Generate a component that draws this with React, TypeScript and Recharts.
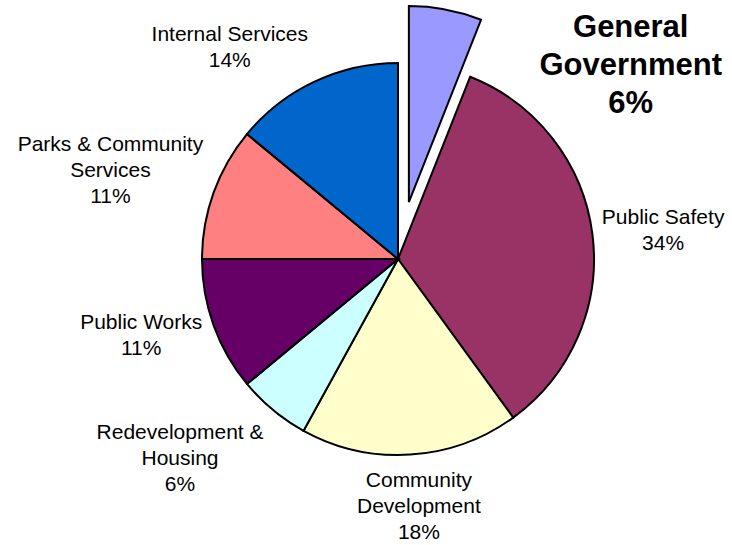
import React from "react";
import { PieChart, Pie, Cell } from "recharts";

const categories = [
  "General Government",
  "Public Safety",
  "Community Development",
  "Redevelopment & Housing",
  "Public Works",
  "Parks & Community Services",
  "Internal Services",
];
const shares = [6, 34, 18, 6, 11, 11, 14];
// how each label breaks onto lines ("|" = new line), percent added after
const labelText = [
  "General|Government",
  "Public Safety",
  "Community|Development",
  "Redevelopment &|Housing",
  "Public Works",
  "Parks & Community|Services",
  "Internal Services",
];
const colors = ["#9999FF", "#993366", "#FFFFCC", "#CCFFFF", "#660066", "#FF8080", "#0066CC"];

// label placement around the pie: angle (deg) and distance from the centre
const labelAngle = [38.4, 4.7, -85.3, -136.6, -162, 164.1, 129.4];
const labelDist = [297, 266, 255, 300, 270, 299, 265];

const CX = 398;
const CY = 259;
const R = 196;
const explodeIndex = 0;
const explodeDist = 58;
const RAD = Math.PI / 180;

const data = categories.map((name, i) => ({ name, value: shares[i] }));

const total = shares.reduce((a, b) => a + b, 0);
const before = shares.slice(0, explodeIndex).reduce((a, b) => a + b, 0);
const explodeMid = 90 - (360 * (before + shares[explodeIndex] / 2)) / total;
const dx = explodeDist * Math.cos(explodeMid * RAD);
const dy = -explodeDist * Math.sin(explodeMid * RAD);

const renderLabel = (props: any) => {
  const index: number = props.index;
  const cx: number = typeof props.cx === "number" ? props.cx : CX;
  const cy: number = typeof props.cy === "number" ? props.cy : CY;
  const a = labelAngle[index] * RAD;
  const x = cx + labelDist[index] * Math.cos(a);
  const y = cy - labelDist[index] * Math.sin(a);
  const lines = [...labelText[index].split("|"), `${shares[index]}%`];
  const bold = index === explodeIndex;
  const fs = bold ? 31 : 21;
  const lh = bold ? 38 : 26;
  return (
    <text
      x={x}
      y={y}
      textAnchor="middle"
      fontFamily="'Liberation Sans', Arial, sans-serif"
      fontSize={fs}
      fontWeight={bold ? 700 : 400}
      fill="#000"
    >
      {lines.map((l, k) => (
        <tspan key={k} x={x} y={y + (k - (lines.length - 1) / 2) * lh}>
          {l}
        </tspan>
      ))}
    </text>
  );
};

export default function App() {
  return (
    <div style={{ position: "absolute", left: 0, top: 0, background: "#fff" }}>
      <PieChart width={732} height={545} margin={{ top: 0, right: 0, bottom: 0, left: 0 }}>
        <Pie
          data={data}
          dataKey="value"
          nameKey="name"
          cx={CX}
          cy={CY}
          outerRadius={R}
          startAngle={90}
          endAngle={-270}
          strokeWidth={2}
          label={renderLabel}
          labelLine={false}
          isAnimationActive={false}
        >
          {data.map((_, i) => (
            <Cell
              key={i}
              fill={i === explodeIndex ? "none" : colors[i]}
              stroke={i === explodeIndex ? "none" : "#000"}
            />
          ))}
        </Pie>
        <Pie
          data={data}
          dataKey="value"
          nameKey="name"
          cx={CX + dx}
          cy={CY + dy}
          outerRadius={R}
          startAngle={90}
          endAngle={-270}
          strokeWidth={2}
          label={false}
          labelLine={false}
          isAnimationActive={false}
        >
          {data.map((_, i) => (
            <Cell
              key={i}
              fill={i === explodeIndex ? colors[i] : "none"}
              stroke={i === explodeIndex ? "#000" : "none"}
            />
          ))}
        </Pie>
      </PieChart>
    </div>
  );
}
